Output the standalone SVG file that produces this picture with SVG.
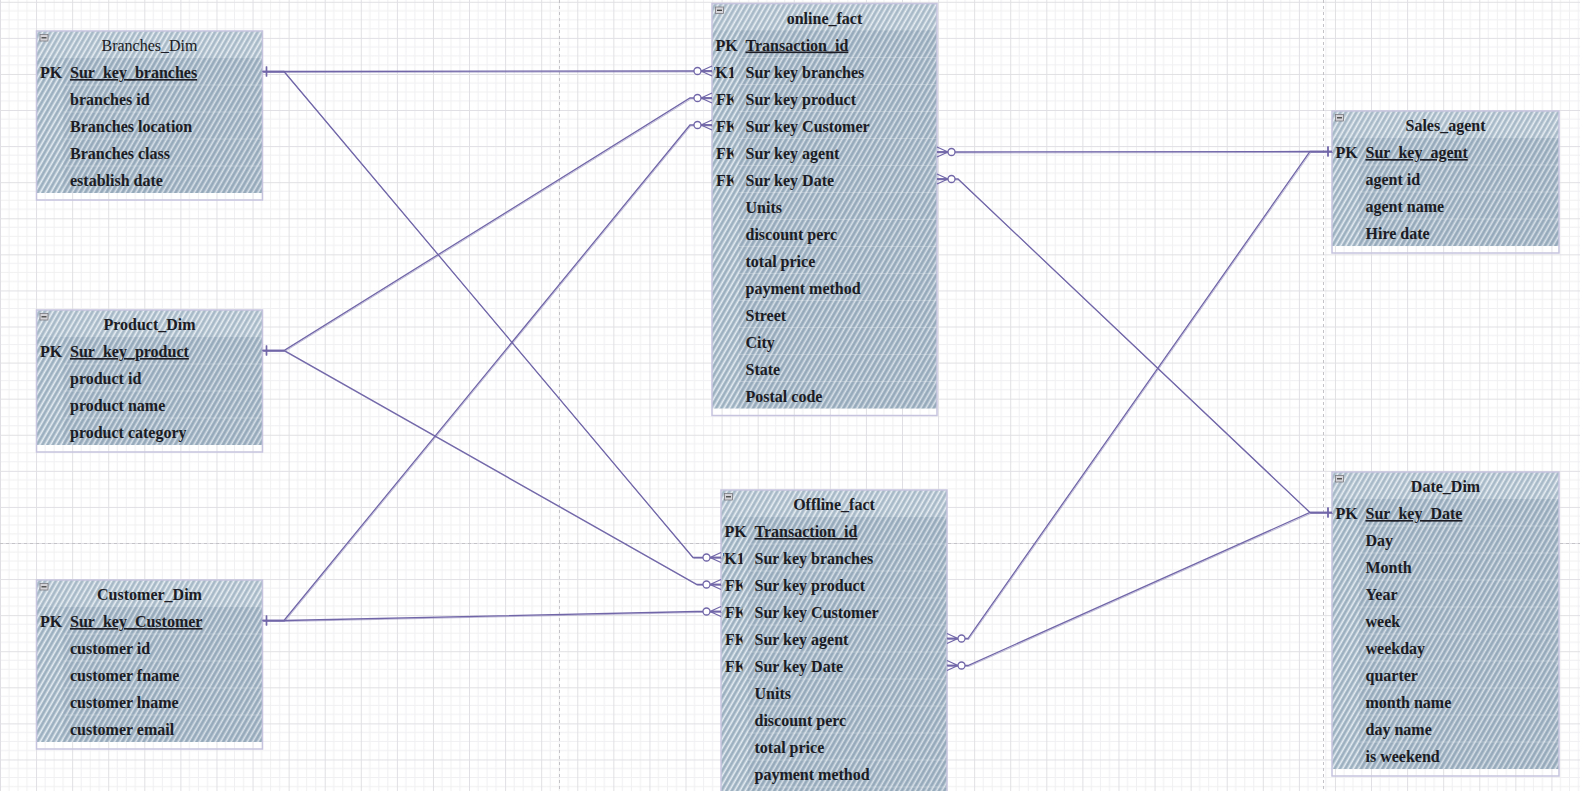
<svg xmlns="http://www.w3.org/2000/svg" xmlns:xlink="http://www.w3.org/1999/xlink" width="1580" height="791" viewBox="0 0 1580 791">
<defs>
<pattern id="grid" patternUnits="userSpaceOnUse" x="0" y="1.8" width="36.08" height="36.08">
<path d="M9.02 0V36.08M18.04 0V36.08M27.06 0V36.08M0 9.02H36.08M0 18.04H36.08M0 27.06H36.08" stroke="#f0f0f2" stroke-width="1" fill="none"/>
<path d="M0.5 0V36.08M0 0.5H36.08" stroke="#e0e0e4" stroke-width="1" fill="none"/>
</pattern>
<pattern id="hatch" patternUnits="userSpaceOnUse" width="4.6" height="12" patternTransform="rotate(30)">
<rect width="4.6" height="12" fill="#a6b8c7"/>
<line x1="1.2" y1="0" x2="1.2" y2="12" stroke="#e6edf2" stroke-width="1.5"/>
<line x1="3.4" y1="0" x2="3.4" y2="12" stroke="#8ea4b6" stroke-width="0.7"/>
</pattern>
<clipPath id="keyclip"><rect x="2" y="0" width="24.5" height="2000"/></clipPath>
<clipPath id="fkclip"><rect x="2" y="0" width="19.5" height="2000"/></clipPath>
<marker id="many" markerUnits="userSpaceOnUse" viewBox="-22 -10 24 20" refX="0" refY="0" markerWidth="24" markerHeight="20" orient="auto-start-reverse" overflow="visible">
<path d="M-11 0L0 -5M-11 0L0 0M-11 0L0 5" stroke="#7066a8" stroke-width="1.3" fill="none"/>
<circle cx="-14.5" cy="0" r="3.5" stroke="#7066a8" stroke-width="1.3" fill="#fff"/>
</marker>
<marker id="one" markerUnits="userSpaceOnUse" viewBox="-12 -8 14 16" refX="0" refY="0" markerWidth="14" markerHeight="16" orient="auto-start-reverse" overflow="visible">
<path d="M-4 -5V5" stroke="#7066a8" stroke-width="1.4" fill="none"/>
</marker>
<g id="icon"><rect x="3.5" y="3.5" width="8" height="6.5" fill="#d4d4d8" stroke="#7a7a80" stroke-width="0.8"/><path d="M5 6.8H10" stroke="#333" stroke-width="1.2"/></g>
</defs>
<style>
.t{font-family:"Liberation Serif","Times New Roman",serif;font-size:16px;font-weight:bold;fill:#1c1c24}
.tn{font-weight:normal}
.u{text-decoration:underline}
.hatch{fill:url(#hatch)}
.hdr{fill:#ffffff;fill-opacity:0.12}
.fld{fill:#5e7890;fill-opacity:0.10}
.sep{stroke:#ffffff;stroke-opacity:0.25;stroke-width:1}
.outer{fill:none;stroke:#c6c4de;stroke-width:1.5}
.conn path{fill:none;stroke:#7066a8;stroke-width:1.3}
.conn2 path{fill:none;stroke:#7066a8;stroke-width:0.8;stroke-opacity:0.55}
.pb{stroke:#c4c4c8;stroke-width:1;stroke-dasharray:3 3;fill:none}
</style>
<rect width="1580" height="791" fill="#ffffff"/>
<rect width="1580" height="791" fill="url(#grid)"/>
<g id="pagebreaks">
<path class="pb" d="M559.5 0V791M1323.5 0V791M0 543.5H1580"/>
</g>

<g id="Branches_Dim" transform="translate(36.5,31)">
<rect class="hatch" width="226" height="162"/>
<rect class="hdr" width="226" height="27"/>
<rect class="fld" x="27" y="27" width="199" height="135"/>
<path class="sep" d="M27 54H226M27 81H226M27 108H226M27 135H226"/>
<rect class="outer" width="226" height="169"/>
<use href="#icon"/>
<text class="t tn" x="113" y="20" text-anchor="middle">Branches_Dim</text>
<text class="t" x="3.5" y="47" clip-path="url(#keyclip)">PK</text>
<text class="t u" x="33.5" y="47">Sur_key_branches</text>
<text class="t" x="33.5" y="74">branches id</text>
<text class="t" x="33.5" y="101">Branches location</text>
<text class="t" x="33.5" y="128">Branches class</text>
<text class="t" x="33.5" y="155">establish date</text>
</g>

<g id="Product_Dim" transform="translate(36.5,310)">
<rect class="hatch" width="226" height="135"/>
<rect class="hdr" width="226" height="27"/>
<rect class="fld" x="27" y="27" width="199" height="108"/>
<path class="sep" d="M27 54H226M27 81H226M27 108H226"/>
<rect class="outer" width="226" height="142"/>
<use href="#icon"/>
<text class="t" x="113" y="20" text-anchor="middle">Product_Dim</text>
<text class="t" x="3.5" y="47" clip-path="url(#keyclip)">PK</text>
<text class="t u" x="33.5" y="47">Sur_key_product</text>
<text class="t" x="33.5" y="74">product id</text>
<text class="t" x="33.5" y="101">product name</text>
<text class="t" x="33.5" y="128">product category</text>
</g>

<g id="Customer_Dim" transform="translate(36.5,580)">
<rect class="hatch" width="226" height="162"/>
<rect class="hdr" width="226" height="27"/>
<rect class="fld" x="27" y="27" width="199" height="135"/>
<path class="sep" d="M27 54H226M27 81H226M27 108H226M27 135H226"/>
<rect class="outer" width="226" height="169"/>
<use href="#icon"/>
<text class="t" x="113" y="20" text-anchor="middle">Customer_Dim</text>
<text class="t" x="3.5" y="47" clip-path="url(#keyclip)">PK</text>
<text class="t u" x="33.5" y="47">Sur_key_Customer</text>
<text class="t" x="33.5" y="74">customer id</text>
<text class="t" x="33.5" y="101">customer fname</text>
<text class="t" x="33.5" y="128">customer lname</text>
<text class="t" x="33.5" y="155">customer email</text>
</g>

<g id="online_fact" transform="translate(712,3.5)">
<rect class="hatch" width="225" height="405"/>
<rect class="hdr" width="225" height="27"/>
<rect class="fld" x="27" y="27" width="198" height="378"/>
<path class="sep" d="M27 54H225M27 81H225M27 108H225M27 135H225M27 162H225M27 189H225M27 216H225M27 243H225M27 270H225M27 297H225M27 324H225M27 351H225M27 378H225"/>
<rect class="outer" width="225" height="412"/>
<use href="#icon"/>
<text class="t" x="112.5" y="20" text-anchor="middle">online_fact</text>
<text class="t" x="3.5" y="47" clip-path="url(#keyclip)">PK</text>
<text class="t" x="-6.5" y="74" clip-path="url(#fkclip)">FK1</text>
<text class="t" x="4" y="101" clip-path="url(#fkclip)">FK</text>
<text class="t" x="4" y="128" clip-path="url(#fkclip)">FK</text>
<text class="t" x="4" y="155" clip-path="url(#fkclip)">FK</text>
<text class="t" x="4" y="182" clip-path="url(#fkclip)">FK</text>
<text class="t u" x="33.5" y="47">Transaction_id</text>
<text class="t" x="33.5" y="74">Sur key branches</text>
<text class="t" x="33.5" y="101">Sur key product</text>
<text class="t" x="33.5" y="128">Sur key Customer</text>
<text class="t" x="33.5" y="155">Sur key agent</text>
<text class="t" x="33.5" y="182">Sur key Date</text>
<text class="t" x="33.5" y="209">Units</text>
<text class="t" x="33.5" y="236">discount perc</text>
<text class="t" x="33.5" y="263">total price</text>
<text class="t" x="33.5" y="290">payment method</text>
<text class="t" x="33.5" y="317">Street</text>
<text class="t" x="33.5" y="344">City</text>
<text class="t" x="33.5" y="371">State</text>
<text class="t" x="33.5" y="398">Postal code</text>
</g>

<g id="Offline_fact" transform="translate(721,490)">
<rect class="hatch" width="226" height="320"/>
<rect class="hdr" width="226" height="27"/>
<rect class="fld" x="27" y="27" width="199" height="293"/>
<path class="sep" d="M27 54H226M27 81H226M27 108H226M27 135H226M27 162H226M27 189H226M27 216H226M27 243H226M27 270H226M27 297H226"/>
<rect class="outer" width="226" height="330"/>
<use href="#icon"/>
<text class="t" x="113" y="20" text-anchor="middle">Offline_fact</text>
<text class="t" x="3.5" y="47" clip-path="url(#keyclip)">PK</text>
<text class="t" x="-6.5" y="74" clip-path="url(#fkclip)">FK1</text>
<text class="t" x="4" y="101" clip-path="url(#fkclip)">FK</text>
<text class="t" x="4" y="128" clip-path="url(#fkclip)">FK</text>
<text class="t" x="4" y="155" clip-path="url(#fkclip)">FK</text>
<text class="t" x="4" y="182" clip-path="url(#fkclip)">FK</text>
<text class="t u" x="33.5" y="47">Transaction_id</text>
<text class="t" x="33.5" y="74">Sur key branches</text>
<text class="t" x="33.5" y="101">Sur key product</text>
<text class="t" x="33.5" y="128">Sur key Customer</text>
<text class="t" x="33.5" y="155">Sur key agent</text>
<text class="t" x="33.5" y="182">Sur key Date</text>
<text class="t" x="33.5" y="209">Units</text>
<text class="t" x="33.5" y="236">discount perc</text>
<text class="t" x="33.5" y="263">total price</text>
<text class="t" x="33.5" y="290">payment method</text>
</g>

<g id="Sales_agent" transform="translate(1332,111)">
<rect class="hatch" width="227" height="135"/>
<rect class="hdr" width="227" height="27"/>
<rect class="fld" x="27" y="27" width="200" height="108"/>
<path class="sep" d="M27 54H227M27 81H227M27 108H227"/>
<rect class="outer" width="227" height="142"/>
<use href="#icon"/>
<text class="t" x="113.5" y="20" text-anchor="middle">Sales_agent</text>
<text class="t" x="3.5" y="47" clip-path="url(#keyclip)">PK</text>
<text class="t u" x="33.5" y="47">Sur_key_agent</text>
<text class="t" x="33.5" y="74">agent id</text>
<text class="t" x="33.5" y="101">agent name</text>
<text class="t" x="33.5" y="128">Hire date</text>
</g>

<g id="Date_Dim" transform="translate(1332,472)">
<rect class="hatch" width="227" height="297"/>
<rect class="hdr" width="227" height="27"/>
<rect class="fld" x="27" y="27" width="200" height="270"/>
<path class="sep" d="M27 54H227M27 81H227M27 108H227M27 135H227M27 162H227M27 189H227M27 216H227M27 243H227M27 270H227"/>
<rect class="outer" width="227" height="304"/>
<use href="#icon"/>
<text class="t" x="113.5" y="20" text-anchor="middle">Date_Dim</text>
<text class="t" x="3.5" y="47" clip-path="url(#keyclip)">PK</text>
<text class="t u" x="33.5" y="47">Sur_key_Date</text>
<text class="t" x="33.5" y="74">Day</text>
<text class="t" x="33.5" y="101">Month</text>
<text class="t" x="33.5" y="128">Year</text>
<text class="t" x="33.5" y="155">week</text>
<text class="t" x="33.5" y="182">weekday</text>
<text class="t" x="33.5" y="209">quarter</text>
<text class="t" x="33.5" y="236">month name</text>
<text class="t" x="33.5" y="263">day name</text>
<text class="t" x="33.5" y="290">is weekend</text>
</g>

<g id="connectors">
<g class="conn2" transform="translate(0.8,1)">
<path d="M262.5 71.5H280L692 71H712"/>
<path d="M262.5 71.5H284L693 557.5H721"/>
<path d="M262.5 350.5H284L690 98H712"/>
<path d="M262.5 350.5H284L697 584.5H721"/>
<path d="M262.5 620.5H284L690 125H712"/>
<path d="M262.5 620.5H284L697 611.5H721"/>
<path d="M937 152H958L1310 151.5H1332"/>
<path d="M937 179H958L1310 512.5H1332"/>
<path d="M947 638.5H968L1310 151.5H1332"/>
<path d="M947 665.5H968L1310 512.5H1332"/>
</g>
<g class="conn">
<path d="M262.5 71.5H280L692 71H712" marker-start="url(#one)" marker-end="url(#many)"/>
<path d="M262.5 71.5H284L693 557.5H721" marker-start="url(#one)" marker-end="url(#many)"/>
<path d="M262.5 350.5H284L690 98H712" marker-start="url(#one)" marker-end="url(#many)"/>
<path d="M262.5 350.5H284L697 584.5H721" marker-start="url(#one)" marker-end="url(#many)"/>
<path d="M262.5 620.5H284L690 125H712" marker-start="url(#one)" marker-end="url(#many)"/>
<path d="M262.5 620.5H284L697 611.5H721" marker-start="url(#one)" marker-end="url(#many)"/>
<path d="M937 152H958L1310 151.5H1332" marker-start="url(#many)" marker-end="url(#one)"/>
<path d="M937 179H958L1310 512.5H1332" marker-start="url(#many)" marker-end="url(#one)"/>
<path d="M947 638.5H968L1310 151.5H1332" marker-start="url(#many)" marker-end="url(#one)"/>
<path d="M947 665.5H968L1310 512.5H1332" marker-start="url(#many)" marker-end="url(#one)"/>
</g>
</g>
</svg>
